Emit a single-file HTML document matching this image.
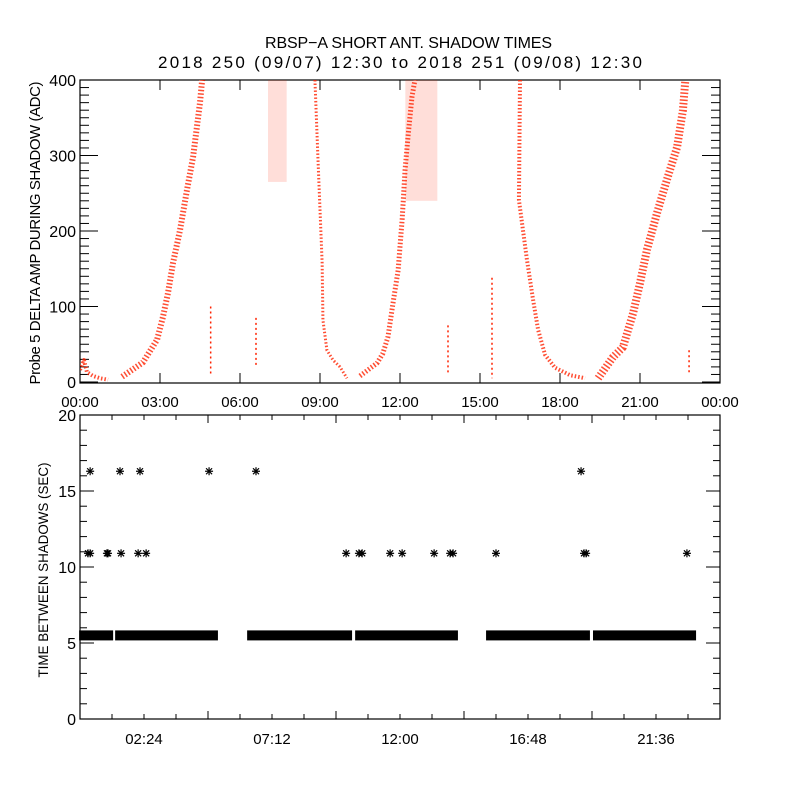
<!DOCTYPE html>
<html><head><meta charset="utf-8"><style>
body{margin:0;background:#fff}
svg{display:block}
text{font-family:"Liberation Sans",sans-serif;fill:#000}
</style></head><body>
<svg id="chart" width="800" height="800" viewBox="0 0 800 800" xmlns="http://www.w3.org/2000/svg">
<rect width="800" height="800" fill="#fff"/>
<text x="265" y="48" font-size="16" textLength="287" lengthAdjust="spacing">RBSP−A SHORT ANT. SHADOW TIMES</text>
<text x="158" y="68" font-size="17" textLength="484" lengthAdjust="spacing">2018 250 (09/07) 12:30 to 2018 251 (09/08) 12:30</text>
<g id="topPanel"></g>
<g id="botPanel"></g>
</svg>
<script>
// ---- top panel data (hour, ADC value) ----
const segAHours=[0,0.15,0.26,0.49,0.75,1.05];
const segAVals=[16,29,13,8,5,3];
const segBHours=[1.58,2.36,2.89,3.11,3.3,3.49,3.75,4.01,4.24,4.5,4.58];
const segBVals=[7,26,56,86,118,158,201,254,298,370,400];
const segDHours=[8.81,8.93,9.08,9.11,9.26,9.49,9.75,10.01];
const segDVals=[400,290,158,82,42,29,20,5];
const segEHours=[10.5,11.14,11.36,11.55,11.74,11.93,12.08,12.19,12.3,12.45,12.56];
const segEVals=[8,25,38,60,105,148,215,281,325,378,400];
const segFHours=[16.5,16.46,16.76,16.99,17.18,17.44,17.81,18.38,18.94];
const segFVals=[400,241,162,109,69,36,19,9,5];
const segGHours=[19.43,19.99,20.36,20.74,21,21.26,21.64,22.01,22.39,22.61,22.7];
const segGVals=[5,33,46,91,131,175,224,268,311,360,400];
const cloudHours=[7.05,7.75,12.2,13.4];   // [start,end] pairs
const cloudVals=[265,400,240,400];
const spikeHours=[4.9,6.6,13.8,15.45,22.84];
const spikeTop=[100,85,75,138,42];
const spikeBot=[10,20,10,5,9];
const topXTicks=["00:00","03:00","06:00","09:00","12:00","15:00","18:00","21:00","00:00"];
const topYTicks=[0,100,200,300,400];
// ---- bottom panel data ----
const bandStart=[0.08,1.43,6.38,10.43,15.34,19.35];
const bandEnd=[1.13,5.06,10.09,14.06,19.01,22.99];
const bandVal=5.5;
const midHours=[0.3,0.38,1.01,1.05,1.54,2.18,2.48,9.98,10.46,10.58,11.63,12.08,13.28,13.88,13.99,15.6,18.9,18.98,22.76];
const midVals=[10.9,10.9,10.9,10.9,10.9,10.9,10.9,10.9,10.9,10.9,10.9,10.9,10.9,10.9,10.9,10.9,10.9,10.9,10.9];
const hiHours=[0.38,1.5,2.25,4.84,6.6,18.79];
const hiVals=[16.3,16.3,16.3,16.3,16.3,16.3];
const botXTicks=["02:24","07:12","12:00","16:48","21:36"];
const botYTicks=[0,5,10,15,20];

const NS="http://www.w3.org/2000/svg";
function mk(parent,tag,attrs){const e=document.createElementNS(NS,tag);for(const k in attrs)e.setAttribute(k,attrs[k]);parent.appendChild(e);return e;}
const L=80,R=720;
const xs=h=>L+(h/24)*(R-L);
const yTop=v=>382-(v/400)*(382-80);
const yBot=v=>719-(v/20)*(719-415);
const tp=document.getElementById('topPanel'),bp=document.getElementById('botPanel');

// top axes box
let e=mk(tp,'rect',{x:L,y:80,width:R-L,height:303,fill:'none',stroke:'#000','stroke-width':1.2});

for(let v=0;v<=400;v+=10){const maj=v%100===0;const w=maj?18:9;
 mk(tp,'line',{x1:L,x2:L+w,y1:yTop(v),y2:yTop(v),stroke:'#000'});
 mk(tp,'line',{x1:R,x2:R-w,y1:yTop(v),y2:yTop(v),stroke:'#000'});}
topYTicks.forEach(v=>{const t=mk(tp,'text',{x:L-4,y:yTop(v)+6,'font-size':16,'text-anchor':'end'});t.textContent=v;
 });
topXTicks.forEach((s,i)=>{const x=xs(i*3);
 mk(tp,'line',{x1:x,x2:x,y1:383,y2:373,stroke:'#000'});mk(tp,'line',{x1:x,x2:x,y1:80,y2:90,stroke:'#000'});
 const t=mk(tp,'text',{x:x,y:407,'font-size':15,'text-anchor':'middle'});t.textContent=s;
 });
e=mk(tp,'text',{x:0,y:0,'font-size':15,'text-anchor':'middle',textLength:303,lengthAdjust:'spacing',transform:'translate(40,233) rotate(-90)'});
e.textContent='Probe 5 DELTA AMP DURING SHADOW (ADC)';


const clip=mk(tp,'clipPath',{id:'tc'});mk(clip,'rect',{x:L,y:80,width:R-L,height:303});
const tg=mk(tp,'g',{'clip-path':'url(#tc)'});
const segs=[[segAHours,segAVals,4],[segBHours,segBVals,6],[segDHours,segDVals,3],[segEHours,segEVals,5],[segFHours,segFVals,4],[segGHours,segGVals,8]];
segs.forEach((s,i)=>{const pts=s[0].map((h,j)=>xs(h)+','+yTop(s[1][j])).join(' ');
 const p=mk(tg,'polyline',{points:pts,fill:'none',stroke:'#ff2200','stroke-width':s[2],'stroke-linejoin':'round','stroke-dasharray':'1.5 2',opacity:0.8});
 });
for(let i=0;i<cloudHours.length;i+=2){
 const r=mk(tg,'rect',{x:xs(cloudHours[i]),y:yTop(cloudVals[i+1]),width:xs(cloudHours[i+1])-xs(cloudHours[i]),height:yTop(cloudVals[i])-yTop(cloudVals[i+1]),fill:'#ff2200',opacity:0.15});
 }
spikeHours.forEach((h,i)=>{const l=mk(tg,'line',{x1:xs(h),x2:xs(h),y1:yTop(spikeTop[i]),y2:yTop(spikeBot[i]),stroke:'#ff2200','stroke-width':1.5,'stroke-dasharray':'2 3'});
 });

// bottom axes
e=mk(bp,'rect',{x:L,y:415,width:R-L,height:304,fill:'none',stroke:'#000','stroke-width':1.2});

for(let v=0;v<=20;v++){const maj=v%5===0;const w=maj?14:7;
 mk(bp,'line',{x1:L,x2:L+w,y1:yBot(v),y2:yBot(v),stroke:'#000'});
 mk(bp,'line',{x1:R,x2:R-w,y1:yBot(v),y2:yBot(v),stroke:'#000'});}
botYTicks.forEach(v=>{const t=mk(bp,'text',{x:L-4,y:yBot(v)+6,'font-size':16,'text-anchor':'end'});t.textContent=v;
 });
for(let k=1;k<20;k++){const x=xs(k*1.2);const maj=k%4===0;const w=maj?8:5;
 mk(bp,'line',{x1:x,x2:x,y1:719,y2:719-w,stroke:'#000'});mk(bp,'line',{x1:x,x2:x,y1:415,y2:415+w,stroke:'#000'});}
botXTicks.forEach((s,i)=>{const t=mk(bp,'text',{x:xs((i+0.5)*4.8),y:744,'font-size':15,'text-anchor':'middle'});t.textContent=s;
 });
e=mk(bp,'text',{x:0,y:0,'font-size':14,'text-anchor':'middle',textLength:215,lengthAdjust:'spacingAndGlyphs',transform:'translate(48,570) rotate(-90)'});
e.textContent='TIME BETWEEN SHADOWS (SEC)';


function star(cx,cy){const g=mk(bp,'g',{stroke:'#000','stroke-width':1.2});
 mk(g,'line',{x1:cx-4,x2:cx+4,y1:cy,y2:cy});mk(g,'line',{x1:cx,x2:cx,y1:cy-4,y2:cy+4});
 mk(g,'line',{x1:cx-3,x2:cx+3,y1:cy-3,y2:cy+3});mk(g,'line',{x1:cx-3,x2:cx+3,y1:cy+3,y2:cy-3});return g;}
bandStart.forEach((h,i)=>{const r=mk(bp,'rect',{x:xs(h)-3,y:yBot(bandVal)-5,width:xs(bandEnd[i])-xs(h)+6,height:10,fill:'#000'});
 });
midHours.forEach((h,i)=>{const g=star(xs(h),yBot(midVals[i]));
 });
hiHours.forEach((h,i)=>{const g=star(xs(h),yBot(hiVals[i]));
 });
</script>
</body></html>
